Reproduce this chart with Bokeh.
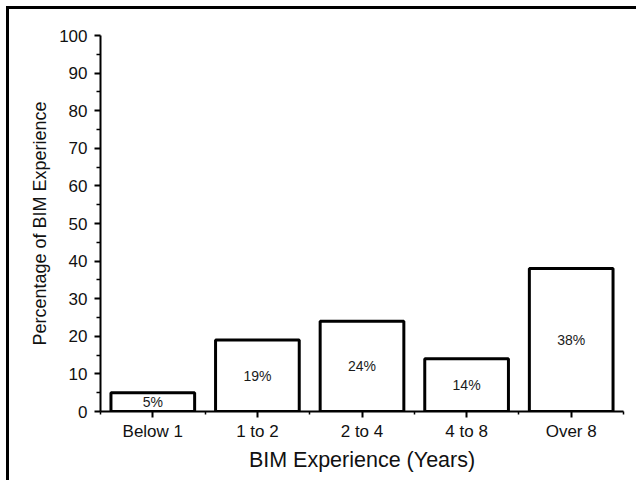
from bokeh.plotting import figure
from bokeh.models import Range1d, FixedTicker, ColumnDataSource, LabelSet
from bokeh.core.properties import value
from bokeh.embed import file_html
from bokeh.resources import INLINE

categories = ["Below 1", "1 to 2", "2 to 4", "4 to 8", "Over 8"]
values = [5, 19, 24, 14, 38]
labels = ["5%", "19%", "24%", "14%", "38%"]
y_ticks = [0, 10, 20, 30, 40, 50, 60, 70, 80, 90, 100]
x_title = "BIM Experience (Years)"
y_title = "Percentage of BIM Experience"

xpos = [i + 0.5 for i in range(len(categories))]
src = ColumnDataSource(dict(
    x=xpos, top=values, mid=[v / 2 for v in values], lab=labels))

FONT = "Liberation Sans"

p = figure(width=630, height=474, output_backend="svg", toolbar_location=None,
           x_range=Range1d(0, len(categories)), y_range=Range1d(0, 100),
           min_border_left=91, min_border_right=16, min_border_top=26,
           min_border_bottom=72)
p.styles = {"border-top": "3px solid black", "border-left": "3px solid black",
            "margin-top": "6px", "margin-left": "6px"}
p.outline_line_color = None
p.grid.visible = False

p.vbar(x="x", top="top", width=0.8, bottom=0, source=src,
       fill_color="white", line_color="black", line_width=3)

p.add_layout(LabelSet(x="x", y="mid", text="lab", source=src,
                      text_align="center", text_baseline="middle",
                      text_font=value(FONT), text_font_size="14px",
                      text_color="#1a1a1a"))

# x axis
xa = p.xaxis[0]
xa.ticker = FixedTicker(ticks=xpos, minor_ticks=list(range(len(categories) + 1)))
xa.major_label_overrides = {x: c for x, c in zip(xpos, categories)}
xa.axis_label = x_title

ya = p.yaxis[0]
ya.ticker = FixedTicker(ticks=y_ticks, minor_ticks=[v + 5 for v in y_ticks[:-1]])
ya.axis_label = y_title

for ax in (xa, ya):
    ax.axis_line_width = 2
    ax.axis_line_color = "black"
    ax.major_tick_line_width = 2
    ax.minor_tick_line_width = 1.5
    ax.major_tick_line_color = "black"
    ax.minor_tick_line_color = "black"
    ax.major_tick_in = 0
    ax.major_tick_out = 6
    ax.minor_tick_in = 0
    ax.minor_tick_out = 4
    ax.major_label_text_font = FONT
    ax.major_label_text_font_size = "17px"
    ax.major_label_text_color = "#111111"
    ax.axis_label_text_font = FONT
    ax.axis_label_text_font_style = "normal"
    ax.axis_label_text_color = "#111111"

xa.minor_tick_out = 3
xa.major_label_standoff = 4
xa.axis_label_text_font_size = "21.5px"
xa.axis_label_standoff = 4
ya.major_label_standoff = 7
ya.axis_label_text_font_size = "18px"
ya.axis_label_standoff = 6

open("out.html", "w").write(file_html(p, INLINE))
